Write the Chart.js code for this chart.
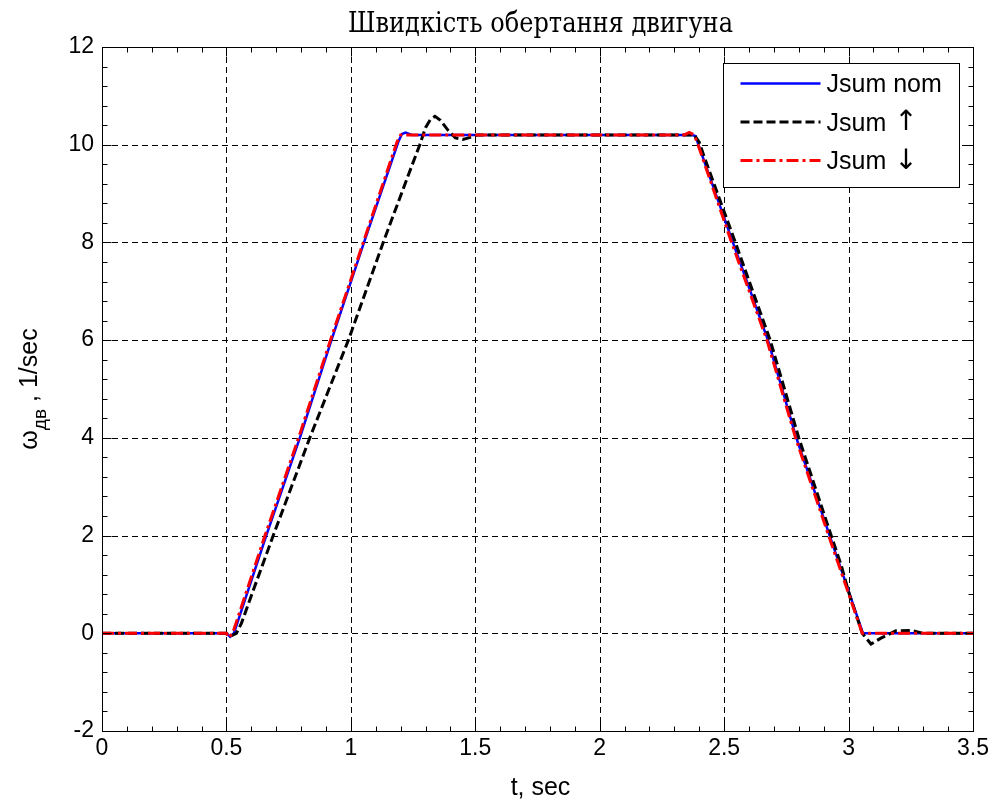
<!DOCTYPE html>
<html>
<head>
<meta charset="utf-8">
<script src="https://cdn.jsdelivr.net/npm/chart.js@4.4.0/dist/chart.umd.min.js"></script>
<style>
  html, body { margin: 0; background: #fff; }
</style>
</head>
<body>
<canvas id="speedChart" width="994" height="805"></canvas>
<script>
// tick labels
const xTicks = [0, 0.5, 1, 1.5, 2, 2.5, 3, 3.5];
const yTicks = [-2, 0, 2, 4, 6, 8, 10, 12];

// Jsum nom
const tNom = [0, 0.5, 0.515, 0.53, 0.66, 0.795, 0.922, 1.053, 1.19, 1.205, 1.22, 1.245, 2.37, 2.385, 2.4, 2.535, 2.676, 2.79, 2.924, 3.058, 3.5];
const wNom = [0, 0, -0.07, 0, 2.0, 4.0, 6.0, 8.0, 10.05, 10.22, 10.25, 10.2, 10.2, 10.18, 9.95, 8.0, 6.0, 4.0, 2.0, 0, 0];

// Jsum up
const tUp = [0, 0.5, 0.515, 0.54, 0.56, 0.62, 0.688, 0.835, 0.99, 1.13, 1.24, 1.277, 1.3, 1.32, 1.338, 1.36, 1.39, 1.42, 1.45, 1.48, 1.51, 2.38, 2.4, 2.42, 2.545, 2.685, 2.8, 2.93, 2.97, 3.0, 3.055, 3.09, 3.13, 3.19, 3.25, 3.3, 3.5];
const wUp = [0, 0, -0.06, 0, 0.2, 1.05, 2.0, 4.0, 6.0, 8.0, 9.5, 10.0, 10.35, 10.52, 10.58, 10.5, 10.3, 10.14, 10.11, 10.15, 10.2, 10.2, 10.05, 9.75, 8.0, 6.0, 4.0, 2.0, 1.4, 0.85, 0, -0.22, -0.1, 0.05, 0.06, 0, 0];

// Jsum down
const tDown = [0, 0.5, 0.508, 0.525, 0.655, 0.79, 0.918, 1.05, 1.185, 1.2, 2.34, 2.36, 2.38, 2.395, 2.53, 2.672, 2.787, 2.92, 3.055, 3.5];
const wDown = [0, 0, -0.09, 0, 2.0, 4.0, 6.0, 8.0, 10.05, 10.2, 10.2, 10.25, 10.2, 10.0, 8.0, 6.0, 4.0, 2.0, 0, 0];

const seriesNames = ["Jsum nom", "Jsum \u2191", "Jsum \u2193"];

const SANS = "'Liberation Sans', Arial, sans-serif";

const pts = (t, w) => t.map((v, i) => ({ x: v, y: w[i] }));

const styles = [
  { color: "#0000ff", width: 2.5, dash: [] },
  { color: "#000000", width: 3, dash: [9, 4] },
  { color: "#ff0000", width: 3, dash: [12, 4, 3, 4] }
];

// grid, inner ticks, box, legend and texts in MATLAB style
const frame = {
  id: "frame",
  beforeDatasetsDraw(chart) {
    const { ctx, chartArea: a, scales: { x, y } } = chart;
    ctx.save();
    ctx.strokeStyle = "#000";
    ctx.lineWidth = 1;
    ctx.setLineDash([6, 4]);
    xTicks.forEach(v => {
      const px = Math.round(x.getPixelForValue(v)) + 0.5;
      ctx.beginPath(); ctx.moveTo(px, a.top); ctx.lineTo(px, a.bottom); ctx.stroke();
    });
    yTicks.forEach(v => {
      const py = Math.round(y.getPixelForValue(v)) + 0.5;
      ctx.beginPath(); ctx.moveTo(a.left, py); ctx.lineTo(a.right, py); ctx.stroke();
    });
    ctx.restore();
  },
  afterDraw(chart) {
    const { ctx, chartArea: a, scales: { x, y } } = chart;
    ctx.save();
    ctx.strokeStyle = "#000";
    ctx.lineWidth = 1;
    ctx.setLineDash([]);

    // box
    const L = Math.round(a.left) + 0.5, R = Math.round(a.right) + 0.5;
    const T = Math.round(a.top) + 0.5, B = Math.round(a.bottom) + 0.5;
    ctx.strokeRect(L, T, R - L, B - T);

    // ticks
    ctx.beginPath();
    for (let i = 0; i <= 35; i++) {
      const v = i / 10;
      const len = i % 5 === 0 ? 9 : 5;
      const px = Math.round(x.getPixelForValue(v)) + 0.5;
      ctx.moveTo(px, B); ctx.lineTo(px, B - len);
      ctx.moveTo(px, T); ctx.lineTo(px, T + len);
    }
    for (let i = 0; i <= 35; i++) {
      const v = -2 + i * 0.4;
      const len = i % 5 === 0 ? 9 : 5;
      const py = Math.round(y.getPixelForValue(v)) + 0.5;
      ctx.moveTo(L, py); ctx.lineTo(L + len, py);
      ctx.moveTo(R, py); ctx.lineTo(R - len, py);
    }
    ctx.stroke();

    // legend
    const lx = Math.round(a.right - 250) + 0.5, ly = Math.round(a.top + 16) + 0.5;
    const lw = 236, lh = 124;
    ctx.fillStyle = "#fff";
    ctx.fillRect(lx, ly, lw, lh);
    ctx.strokeRect(lx, ly, lw, lh);
    ctx.textBaseline = "middle";
    ctx.textAlign = "left";
    seriesNames.forEach((name, i) => {
      const ry = ly + 20 + i * 38.5;
      const s = styles[i];
      ctx.strokeStyle = s.color;
      ctx.lineWidth = s.width;
      ctx.setLineDash(s.dash);
      ctx.beginPath(); ctx.moveTo(lx + 17, ry); ctx.lineTo(lx + 97, ry); ctx.stroke();
      ctx.fillStyle = "#000";
      // arrows drawn bigger, like in the original font
      const m = name.match(/^(.*?)([\u2191\u2193]?)$/);
      ctx.font = "25px " + SANS;
      ctx.fillText(m[1], lx + 103, ry + 2);
      if (m[2]) {
        const w = ctx.measureText(m[1]).width;
        ctx.font = "28px 'DejaVu Sans', sans-serif";
        ctx.fillText(m[2], lx + 103 + w + 1, ry + 1);
      }
    });
    ctx.setLineDash([]);

    // title
    const cx = (a.left + a.right) / 2 + 3;
    ctx.font = "27px 'DejaVu Serif', serif";
    ctx.textAlign = "center";
    ctx.textBaseline = "alphabetic";
    const title = "Швидкість обертання двигуна";
    const k = 385 / ctx.measureText(title).width;
    ctx.save();
    ctx.translate(cx, 32);
    ctx.scale(k, 1);
    ctx.fillText(title, 0, 0);
    ctx.restore();

    // x label
    ctx.font = "25px " + SANS;
    ctx.fillText("t, sec", cx, 795);

    // y label with subscript
    const main1 = "\u03c9", sub = "дв", main2 = " , 1/sec";
    ctx.font = "25px " + SANS;
    const w1 = ctx.measureText(main1).width, w3 = ctx.measureText(main2).width;
    ctx.font = "19px " + SANS;
    const w2 = ctx.measureText(sub).width;
    ctx.save();
    ctx.translate(30, (a.top + a.bottom) / 2);
    ctx.rotate(-Math.PI / 2);
    ctx.textAlign = "left";
    let sx = -(w1 + w2 + w3) / 2;
    ctx.font = "25px " + SANS;
    ctx.fillText(main1, sx, 7);
    ctx.font = "19px " + SANS;
    ctx.fillText(sub, sx + w1, 16);
    ctx.font = "25px " + SANS;
    ctx.fillText(main2, sx + w1 + w2, 7);
    ctx.restore();

    ctx.restore();
  }
};

new Chart(document.getElementById("speedChart"), {
  type: "line",
  data: {
    datasets: [
      { label: seriesNames[0], data: pts(tNom, wNom), order: 3 },
      { label: seriesNames[1], data: pts(tUp, wUp), order: 2 },
      { label: seriesNames[2], data: pts(tDown, wDown), order: 1 }
    ].map((d, i) => ({
      ...d,
      borderColor: styles[i].color,
      borderWidth: styles[i].width,
      borderDash: styles[i].dash,
      pointRadius: 0,
      tension: 0,
      fill: false
    }))
  },
  options: {
    responsive: false,
    animation: false,
    devicePixelRatio: 1,
    layout: { padding: { top: 47, right: 21, left: 0, bottom: 0 } },
    plugins: { legend: { display: false }, tooltip: { enabled: false } },
    scales: {
      x: {
        type: "linear",
        min: 0,
        max: 3.5,
        afterBuildTicks: s => { s.ticks = xTicks.map(v => ({ value: v })); },
        afterFit: s => { s.height = 74; },
        grid: { display: false, drawTicks: false },
        border: { display: false },
        ticks: { color: "#000", padding: 4, maxRotation: 0, font: { family: SANS, size: 23 }, callback: v => String(v) }
      },
      y: {
        min: -2,
        max: 12,
        afterBuildTicks: s => { s.ticks = yTicks.map(v => ({ value: v })); },
        afterFit: s => { s.width = 102; },
        grid: { display: false, drawTicks: false },
        border: { display: false },
        ticks: { color: "#000", padding: 8, font: { family: SANS, size: 23 }, callback: v => String(v) }
      }
    }
  },
  plugins: [frame]
});
</script>
</body>
</html>
